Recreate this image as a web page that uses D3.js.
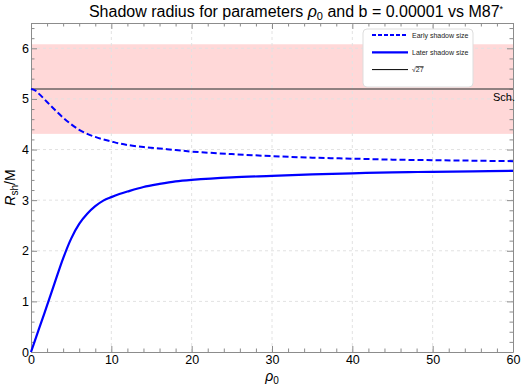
<!DOCTYPE html>
<html>
<head>
<meta charset="utf-8">
<script src="https://cdn.jsdelivr.net/npm/d3@7"></script>
<style>
  body { margin: 0; background: #fff; }
  svg { display: block; font-family: "Liberation Sans", Arial, sans-serif; }
</style>
</head>
<body>
<div id="chart"></div>
<script>
// data
const rho0 = [0, 0.5, 1, 2, 3, 4, 5, 6, 7, 8, 9, 10, 11, 12, 14, 16, 18, 20, 25, 30, 35, 40, 45, 50, 55, 60];
const earlyShadow = [5.196, 5.17, 5.10, 4.94, 4.78, 4.63, 4.50, 4.39, 4.31, 4.25, 4.20, 4.16, 4.12, 4.09, 4.05, 4.02, 3.99, 3.96, 3.91, 3.87, 3.84, 3.82, 3.80, 3.79, 3.78, 3.77];
const laterShadow = [0, 0.23, 0.46, 0.92, 1.39, 1.85, 2.24, 2.53, 2.73, 2.88, 2.99, 3.06, 3.12, 3.17, 3.26, 3.32, 3.37, 3.40, 3.45, 3.48, 3.51, 3.53, 3.55, 3.56, 3.57, 3.58];
const schRadius = Math.sqrt(27);
const m87Band = [4.31, 6.08];
const xTicks = [0, 10, 20, 30, 40, 50, 60];
const yTicks = [0, 1, 2, 3, 4, 5, 6];
const legendLabels = ["Early shadow size", "Later shadow size", "27"];

const width = 523, height = 392;
const margin = {top: 23, right: 10, bottom: 40, left: 31};

const svg = d3.select("#chart").append("svg")
    .attr("width", width)
    .attr("height", height);

const x = d3.scaleLinear().domain([0, 60]).range([margin.left, width - margin.right]);
const y = d3.scaleLinear().domain([0, 6.5]).range([height - margin.bottom, margin.top]);

// M87* band
svg.append("rect")
    .attr("x", x(0)).attr("width", x(60) - x(0))
    .attr("y", y(m87Band[1])).attr("height", y(m87Band[0]) - y(m87Band[1]))
    .attr("fill", "#ffd8d8");

// grid
const grid = svg.append("g").attr("stroke", "#e2e2e2").attr("stroke-dasharray", "3,3");
grid.selectAll(".gx").data(xTicks.slice(1, -1)).join("line")
    .attr("x1", d => x(d)).attr("x2", d => x(d))
    .attr("y1", y(0)).attr("y2", y(6.5));
grid.selectAll(".gy").data(yTicks.slice(1)).join("line")
    .attr("x1", x(0)).attr("x2", x(60))
    .attr("y1", d => y(d)).attr("y2", d => y(d));

// frame with ticks on all sides
const minorX = d3.range(0, 61, 2).filter(d => d % 10);
const minorY = d3.range(0, 6.51, 0.2).map(d => +d.toFixed(1)).filter(d => Math.abs(d - Math.round(d)) > 1e-6);

function frame(axisFn, pos, major, minor, labels) {
    const g = svg.append("g").attr("transform", pos);
    g.call(axisFn(major === "x" ? x : y)
        .tickValues(major === "x" ? xTicks : yTicks)
        .tickSize(-6).tickSizeOuter(0).tickPadding(labels ? 3 : 0)
        .tickFormat(labels ? d3.format("d") : ""));
    g.append("g").call(axisFn(major === "x" ? x : y)
        .tickValues(minor).tickSize(-3.5).tickSizeOuter(0).tickFormat(""))
        .select(".domain").remove();
    g.selectAll("line, path").attr("stroke", "#8c8c8c");
    g.selectAll("text").attr("font-size", 12.5).attr("fill", "#000")
        .attr("font-family", "Liberation Sans, Arial, sans-serif");
    return g;
}
frame(d3.axisBottom, `translate(0,${y(0)})`, "x", minorX, true);
frame(d3.axisTop, `translate(0,${y(6.5)})`, "x", minorX, false);
frame(d3.axisLeft, `translate(${x(0)},0)`, "y", minorY, true)
    .selectAll("text").attr("dx", 1);
frame(d3.axisRight, `translate(${x(60)},0)`, "y", minorY, false);

// sqrt(27) line
svg.append("line")
    .attr("x1", x(0)).attr("x2", x(60))
    .attr("y1", y(schRadius)).attr("y2", y(schRadius))
    .attr("stroke", "#6b6565").attr("stroke-width", 1.6);

svg.append("text")
    .attr("x", x(60) + 2).attr("y", y(schRadius) + 12)
    .attr("text-anchor", "end").attr("font-size", 11)
    .text("Sch.");

const line = d3.line().x((d, i) => x(rho0[i])).y(d => y(d)).curve(d3.curveCatmullRom.alpha(0.5));

svg.append("path").datum(earlyShadow)
    .attr("fill", "none").attr("stroke", "#0000ff").attr("stroke-width", 2)
    .attr("stroke-dasharray", "6,3").attr("d", line);

svg.append("path").datum(laterShadow)
    .attr("fill", "none").attr("stroke", "#0000ff").attr("stroke-width", 2.2)
    .attr("d", line);

// legend
const lg = svg.append("g").attr("transform", "translate(363,29)");
lg.append("rect").attr("width", 110).attr("height", 58).attr("rx", 4)
    .attr("fill", "#fff").attr("stroke", "#ddd");
const styles = [
    {stroke: "#0000ff", w: 2, dash: "4,2"},
    {stroke: "#0000ff", w: 2.2, dash: null},
    {stroke: "#000", w: 1, dash: null}
];
legendLabels.forEach((lab, i) => {
    const yy = 6 + i * 17.3;
    lg.append("line").attr("x1", 9).attr("x2", 45).attr("y1", yy).attr("y2", yy)
        .attr("stroke", styles[i].stroke).attr("stroke-width", styles[i].w)
        .attr("stroke-dasharray", styles[i].dash);
    const t = lg.append("text").attr("x", 49).attr("y", yy + 2.5).attr("font-size", 7)
        .attr("fill", "#222");
    if (i === 2) {
        t.append("tspan").text("\u221A");
        t.append("tspan").attr("text-decoration", "overline").text(lab);
    } else {
        t.text(lab);
    }
});

// title
const title = svg.append("text").attr("x", 296).attr("y", 17)
    .attr("text-anchor", "middle").attr("font-size", 16);
title.append("tspan").text("Shadow radius for parameters ");
title.append("tspan").attr("font-style", "italic").text("\u03C1");
title.append("tspan").attr("font-size", 11).attr("dy", 3).text("0");
title.append("tspan").attr("dy", -3).text(" and b = 0.00001 vs M87");
title.append("tspan").attr("font-size", 9).attr("dy", -5).text("*");

// axis labels
const xl = svg.append("text").attr("x", 272).attr("y", 381).attr("text-anchor", "middle").attr("font-size", 14);
xl.append("tspan").attr("font-style", "italic").text("\u03C1");
xl.append("tspan").attr("font-size", 10).attr("dy", 3).text("0");

const yl = svg.append("text").attr("transform", `translate(15,${(y(0) + y(6.5)) / 2}) rotate(-90)`)
    .attr("text-anchor", "middle").attr("font-size", 14);
yl.append("tspan").attr("font-style", "italic").text("R");
yl.append("tspan").attr("font-size", 10).attr("dy", 3).text("sh");
yl.append("tspan").attr("dy", -3).text("/M");
</script>
</body>
</html>
